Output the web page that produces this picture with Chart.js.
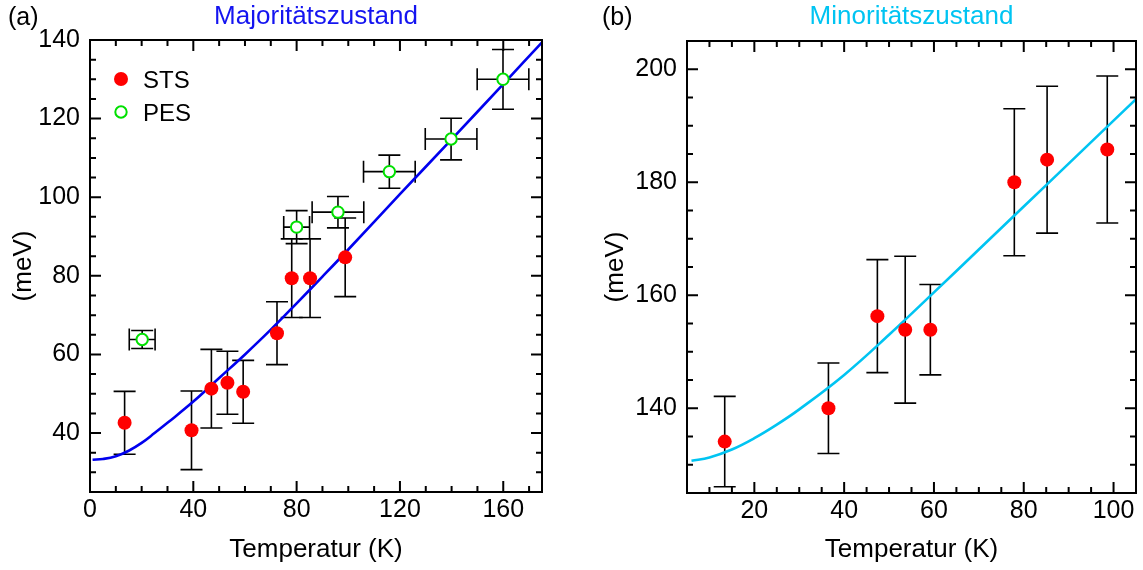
<!DOCTYPE html>
<html>
<head>
<meta charset="utf-8">
<script src="https://cdn.jsdelivr.net/npm/chart.js@4.4.0/dist/chart.umd.min.js"></script>
<style>
  body { margin: 0; background: #fff; }
  #wrap { position: relative; width: 1143px; height: 570px; }
  canvas { position: absolute; top: 0; }
</style>
</head>
<body>
<div id="wrap">
  <canvas id="chartA" width="580" height="570" style="left:0"></canvas>
  <canvas id="chartB" width="563" height="570" style="left:580px"></canvas>
</div>
<script>
// (a) Majoritätszustand
var stsTempA = [13.4, 39.3, 47.0, 53.2, 59.3, 72.4, 78.1, 85.2, 98.8];
var stsEnergyA = [42.6, 40.7, 51.3, 52.8, 50.5, 65.4, 79.4, 79.4, 84.7];
var stsErrA = [8, 10, 10, 8, 8, 8, 10, 10, 10];

var pesTemp = [20.2, 80, 96, 115.9, 139.8, 159.9];
var pesEnergy = [63.8, 92.4, 96.2, 106.5, 114.8, 130];
var pesErrE = [2.3, 4.2, 4, 4.2, 5.3, 7.6];
var pesErrT = [5, 5, 10, 10, 10, 10];

var fitTempA = [1, 5, 10, 15, 20, 25, 30, 40, 50, 60, 70, 80, 90, 100, 120, 140, 160, 175];
var fitEnergyA = [33.2, 33.4, 34.1, 35.5, 37.5, 40.0, 42.6, 48.0, 54.0, 60.0, 66.3, 73.0, 79.8, 86.7, 100.8, 114.7, 128.8, 139.4];

var xTicksA = [0, 40, 80, 120, 160];
var yTicksA = [40, 60, 80, 100, 120, 140];

// (b) Minoritätszustand
var stsTempB = [13.4, 36.5, 47.4, 53.6, 59.2, 77.9, 85.2, 98.6];
var stsEnergyB = [134.1, 140.0, 156.3, 153.9, 153.9, 180.0, 184.0, 185.8];
var stsErrB = [8, 8, 10, 13, 8, 13, 13, 13];

var fitTempB = [6, 10, 15, 20, 25, 30, 40, 50, 60, 70, 80, 90, 100, 105];
var fitEnergyB = [130.7, 131.3, 132.7, 134.7, 137.1, 139.8, 145.9, 153.0, 160.5, 168.1, 175.7, 183.3, 190.9, 194.7];

var xTicksB = [20, 40, 60, 80, 100];
var yTicksB = [140, 160, 180, 200];

var FONT = "'Liberation Sans', Arial, sans-serif";

function pts(xs, ys) {
  return xs.map(function(x, i) { return { x: x, y: ys[i] }; });
}

// error bars, frame, inward ticks, titles and legend
var decor = {
  id: 'decor',
  beforeDatasetsDraw: function(chart) {
    var ctx = chart.ctx, xs = chart.scales.x, ys = chart.scales.y;
    ctx.save();
    ctx.strokeStyle = '#000';
    ctx.lineWidth = 1.6;
    chart.data.datasets.forEach(function(ds) {
      if (!ds.yErr && !ds.xErr) return;
      ds.data.forEach(function(p, i) {
        var px = xs.getPixelForValue(p.x), py = ys.getPixelForValue(p.y);
        ctx.beginPath();
        if (ds.yErr) {
          var t = ys.getPixelForValue(p.y + ds.yErr[i]), b = ys.getPixelForValue(p.y - ds.yErr[i]);
          ctx.moveTo(px, t); ctx.lineTo(px, b);
          ctx.moveTo(px - 11, t); ctx.lineTo(px + 11, t);
          ctx.moveTo(px - 11, b); ctx.lineTo(px + 11, b);
        }
        if (ds.xErr) {
          var l = xs.getPixelForValue(p.x - ds.xErr[i]), r = xs.getPixelForValue(p.x + ds.xErr[i]);
          ctx.moveTo(l, py); ctx.lineTo(r, py);
          ctx.moveTo(l, py - 11); ctx.lineTo(l, py + 11);
          ctx.moveTo(r, py - 11); ctx.lineTo(r, py + 11);
        }
        ctx.stroke();
      });
    });
    ctx.restore();
  },
  afterDraw: function(chart, args, opts) {
    var ctx = chart.ctx, a = chart.chartArea, xs = chart.scales.x, ys = chart.scales.y;
    ctx.save();
    ctx.strokeStyle = '#000';
    ctx.lineWidth = 2;
    ctx.strokeRect(a.left, a.top, a.right - a.left, a.bottom - a.top);
    ctx.beginPath();
    var v, p, len;
    for (v = Math.ceil(xs.min / opts.xMinor) * opts.xMinor; v <= xs.max; v += opts.xMinor) {
      p = xs.getPixelForValue(v);
      len = (Math.abs(v % opts.xMajor) < 1e-6) ? 11 : 6;
      ctx.moveTo(p, a.bottom); ctx.lineTo(p, a.bottom - len);
      ctx.moveTo(p, a.top); ctx.lineTo(p, a.top + len);
    }
    for (v = Math.ceil(ys.min / opts.yMinor) * opts.yMinor; v <= ys.max; v += opts.yMinor) {
      p = ys.getPixelForValue(v);
      len = (Math.abs(v % opts.yMajor) < 1e-6) ? 11 : 6;
      ctx.moveTo(a.left, p); ctx.lineTo(a.left + len, p);
      ctx.moveTo(a.right, p); ctx.lineTo(a.right - len, p);
    }
    ctx.stroke();

    ctx.font = '25px ' + FONT;
    ctx.textBaseline = 'alphabetic';
    ctx.fillStyle = '#000';
    ctx.textAlign = 'left';
    ctx.fillText(opts.panel, opts.panelX, 25);
    ctx.font = '26px ' + FONT;
    ctx.fillStyle = opts.titleColor;
    ctx.textAlign = 'center';
    ctx.fillText(opts.title, (a.left + a.right) / 2, 24);

    if (opts.legend) {
      ctx.font = '24px ' + FONT;
      ctx.textAlign = 'left';
      chart.data.datasets.forEach(function(ds, i) {
        if (!ds.label) return;
        var ly = 79 + i * 33;
        ctx.beginPath();
        ctx.arc(121, ly, ds.pointRadius, 0, Math.PI * 2);
        ctx.fillStyle = ds.backgroundColor;
        ctx.fill();
        if (ds.borderWidth) {
          ctx.lineWidth = ds.borderWidth;
          ctx.strokeStyle = ds.borderColor;
          ctx.stroke();
        }
        ctx.fillStyle = '#000';
        ctx.fillText(ds.label, 143, ly + 8.5);
      });
    }
    ctx.restore();
  }
};

function axis(min, max, tickVals, title, fit, titlePad, tickPad) {
  return {
    type: 'linear', min: min, max: max,
    grid: { display: false, drawTicks: false },
    border: { display: false },
    ticks: { padding: tickPad, color: '#000', font: { family: FONT, size: 25 } },
    afterBuildTicks: function(s) { s.ticks = tickVals.map(function(v) { return { value: v }; }); },
    title: { display: true, text: title, color: '#000', font: { family: FONT, size: 26 }, padding: titlePad },
    afterFit: fit
  };
}

new Chart(document.getElementById('chartA'), {
  type: 'scatter',
  data: {
    datasets: [
      { label: 'STS', data: pts(stsTempA, stsEnergyA), yErr: stsErrA, pointRadius: 7, backgroundColor: '#ff0000', borderWidth: 0, order: 1 },
      { label: 'PES', data: pts(pesTemp, pesEnergy), yErr: pesErrE, xErr: pesErrT, pointRadius: 5.7, backgroundColor: '#ffffff', borderColor: '#00e000', borderWidth: 2, order: 0 },
      { data: pts(fitTempA, fitEnergyA), showLine: true, pointRadius: 0, borderColor: '#0000ee', borderWidth: 2.6, tension: 0.4, order: 2 }
    ]
  },
  options: {
    responsive: false,
    animation: false,
    layout: { padding: { top: 40, right: 38, bottom: 0, left: 0 } },
    scales: {
      x: axis(0, 175, xTicksA, 'Temperatur (K)', function(s) { s.height = 78; }, { top: 0, bottom: 5 }, 3),
      y: axis(25, 140, yTicksA, '(meV)', function(s) { s.width = 90; }, { top: 8, bottom: 0 }, 10)
    },
    plugins: {
      legend: { display: false },
      tooltip: { enabled: false },
      decor: { xMinor: 10, xMajor: 40, yMinor: 5, yMajor: 20, panel: '(a)', panelX: 8, title: 'Majoritätszustand', titleColor: '#1414f0', legend: true }
    }
  },
  plugins: [decor]
});

new Chart(document.getElementById('chartB'), {
  type: 'scatter',
  data: {
    datasets: [
      { data: pts(stsTempB, stsEnergyB), yErr: stsErrB, pointRadius: 7, backgroundColor: '#ff0000', borderWidth: 0, order: 0 },
      { data: pts(fitTempB, fitEnergyB), showLine: true, pointRadius: 0, borderColor: '#00c4f2', borderWidth: 2.6, tension: 0.4, order: 1 }
    ]
  },
  options: {
    responsive: false,
    animation: false,
    layout: { padding: { top: 41, right: 4, bottom: 0, left: 0 } },
    scales: {
      x: axis(5, 105, xTicksB, 'Temperatur (K)', function(s) { s.height = 77; }, { top: 0, bottom: 5 }, 3),
      y: axis(125, 205, yTicksB, '(meV)', function(s) { s.width = 107; }, { top: 20, bottom: 0 }, 10)
    },
    plugins: {
      legend: { display: false },
      tooltip: { enabled: false },
      decor: { xMinor: 5, xMajor: 20, yMinor: 5, yMajor: 20, panel: '(b)', panelX: 22, title: 'Minoritätszustand', titleColor: '#00c4f2', legend: false }
    }
  },
  plugins: [decor]
});
</script>
</body>
</html>
